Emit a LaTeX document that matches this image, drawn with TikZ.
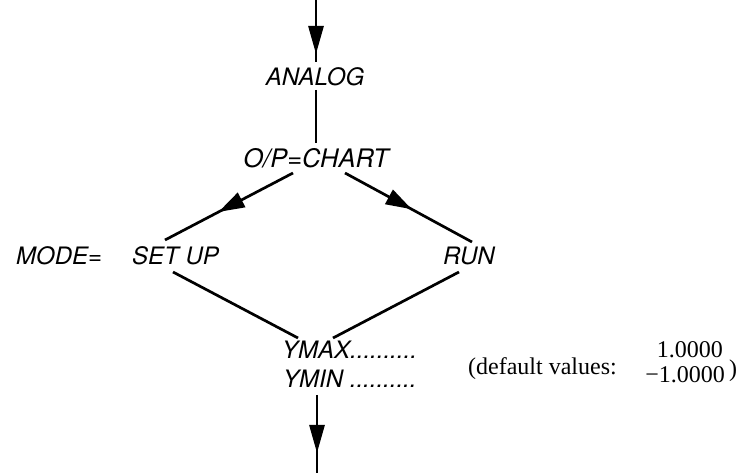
\documentclass[tikz,border=0pt]{standalone}
\usepackage{fontspec}
\newfontfamily\hvfont{TeX Gyre Heros}
\newfontfamily\tmsfont{Liberation Serif}
\usetikzlibrary{arrows.meta,decorations.markings}
\begin{document}
\begin{tikzpicture}[x=1pt,y=-1pt,
  lbl/.style={inner sep=0pt,font=\hvfont\itshape\fontsize{24}{28}\selectfont},
  tms/.style={inner sep=0pt,font=\tmsfont\fontsize{24}{28}\selectfont},
  conn/.style={line width=2.7pt},
  midarrow/.style 2 args={postaction={decorate},
    decoration={markings,mark=at position #1 with {\arrow{#2}}}},
  headA/.tip={Triangle[length=28pt,width=15pt]},
  headB/.tip={Triangle[length=26pt,width=16pt]},
]
\useasboundingbox (0,0) rectangle (748,473);
% labels
\node[lbl,anchor=base] (analog) at (315,86) {ANALOG};
\node[lbl,anchor=base,font=\hvfont\itshape\fontsize{25.5}{28}\selectfont] (op) at (316,168) {O/P=CHART};
\node[lbl,anchor=base west] (mode) at (16,265) {MODE=};
\node[lbl,anchor=base west] (setup) at (132,265) {SET UP};
\node[lbl,anchor=base west] (run) at (443,265) {RUN};
\node[lbl,anchor=base west] (ymax) at (282,359) {YMAX..........};
\node[lbl,anchor=base west] (ymin) at (283,388) {YMIN ..........};
\node[tms,anchor=base west] (def) at (468,375) {(default values:};
\node[tms,anchor=base east] (v1) at (723,358) {1.0000};
\node[tms,anchor=base east] (v2) at (725,383) {−1.0000};
\node[tms,anchor=base west] (rp) at (729,377) {)};
% connector end points
\coordinate (in) at (316,0);
\coordinate (analogN) at (316,62);
\coordinate (analogS) at (316,90);
\coordinate (opN) at (316,143);
\coordinate (opSW) at (293,173);
\coordinate (opSE) at (345,173);
\coordinate (setupN) at (165,240);
\coordinate (runN) at (472,242);
\coordinate (setupS) at (173,272);
\coordinate (runS) at (459,272);
\coordinate (ymaxNW) at (298,338);
\coordinate (ymaxNE) at (333,338);
\coordinate (yminS) at (317,395);
\coordinate (out) at (317,473);
% connectors
\draw[conn,midarrow={54pt}{headA}] (in) -- (analogN);
\draw[conn] (analogS) -- (opN);
\draw[conn,midarrow={84pt}{headB}] (opSW) -- (setupN);
\draw[conn,midarrow={76pt}{headB}] (opSE) -- (runN);
\draw[conn] (setupS) -- (ymaxNW);
\draw[conn] (runS) -- (ymaxNE);
\draw[conn,midarrow={58pt}{headA}] (yminS) -- (out);
\end{tikzpicture}
\end{document}
